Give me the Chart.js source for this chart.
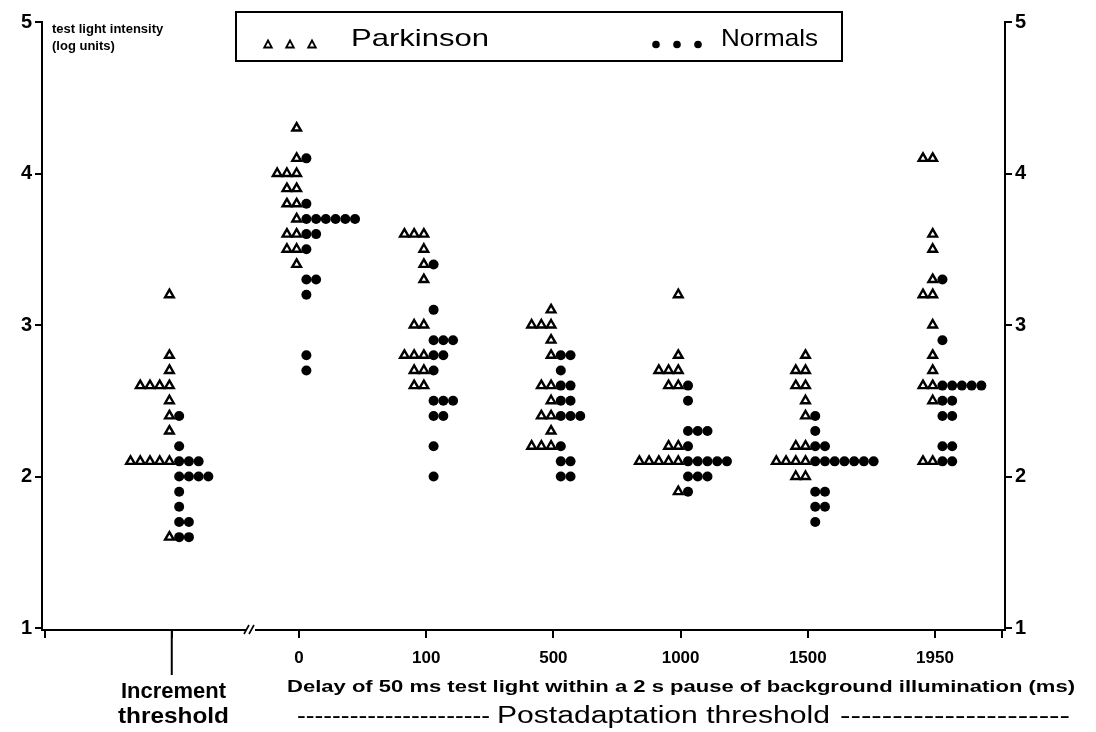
<!DOCTYPE html>
<html>
<head>
<meta charset="utf-8">
<script src="https://cdn.jsdelivr.net/npm/chart.js@4.4.0/dist/chart.umd.min.js"></script>
<style>
  html, body { margin: 0; padding: 0; background: #fff; }
  #wrap { width: 1096px; height: 732px; }
</style>
</head>
<body>
<div id="wrap"><canvas id="chart" width="1096" height="732"></canvas></div>
<script>
// ── Data ───────────────────────────────────────────────────────────────────
// group 0 = increment threshold, 1..6 = delay in ms
const groupLabels = ['', '0', '100', '500', '1000', '1500', '1950'];

// log-unit thresholds, one entry per subject
const parkinson = [
  [3.2, 2.8, 2.7, 2.6, 2.6, 2.6, 2.6, 2.5, 2.4, 2.3, 2.1, 2.1, 2.1, 2.1, 2.1, 1.6],
  [4.3, 4.1, 4.0, 4.0, 4.0, 3.9, 3.9, 3.8, 3.8, 3.7, 3.6, 3.6, 3.5, 3.5, 3.4],
  [3.6, 3.6, 3.6, 3.5, 3.4, 3.3, 3.0, 3.0, 2.8, 2.8, 2.8, 2.7, 2.7, 2.6, 2.6],
  [3.1, 3.0, 3.0, 3.0, 2.9, 2.8, 2.6, 2.6, 2.5, 2.4, 2.4, 2.3, 2.2, 2.2, 2.2],
  [3.2, 2.8, 2.7, 2.7, 2.7, 2.6, 2.6, 2.2, 2.2, 2.1, 2.1, 2.1, 2.1, 2.1, 1.9],
  [2.8, 2.7, 2.7, 2.6, 2.6, 2.5, 2.4, 2.2, 2.2, 2.1, 2.1, 2.1, 2.1, 2.0, 2.0],
  [4.1, 4.1, 3.6, 3.5, 3.3, 3.2, 3.2, 3.0, 2.8, 2.7, 2.6, 2.6, 2.5, 2.1, 2.1]
];

const normals = [
  [2.4, 2.2, 2.1, 2.1, 2.1, 2.0, 2.0, 2.0, 2.0, 1.9, 1.8, 1.7, 1.7, 1.6, 1.6],
  [4.1, 3.8, 3.7, 3.7, 3.7, 3.7, 3.7, 3.7, 3.6, 3.6, 3.5, 3.3, 3.3, 3.2, 2.8, 2.7],
  [3.4, 3.1, 2.9, 2.9, 2.9, 2.8, 2.8, 2.7, 2.5, 2.5, 2.5, 2.4, 2.4, 2.2, 2.0],
  [2.8, 2.8, 2.7, 2.6, 2.6, 2.5, 2.5, 2.4, 2.4, 2.4, 2.2, 2.1, 2.1, 2.0, 2.0],
  [2.6, 2.5, 2.3, 2.3, 2.3, 2.2, 2.1, 2.1, 2.1, 2.1, 2.1, 2.0, 2.0, 2.0, 1.9],
  [2.4, 2.3, 2.2, 2.2, 2.1, 2.1, 2.1, 2.1, 2.1, 2.1, 2.1, 1.9, 1.9, 1.8, 1.8, 1.7],
  [3.3, 2.9, 2.6, 2.6, 2.6, 2.6, 2.6, 2.5, 2.5, 2.4, 2.4, 2.2, 2.2, 2.1, 2.1]
];

const yTicks = [1, 2, 3, 4, 5];

// ── Dot-plot stacking: equal values line up sideways ───────────────────────
const STEP = 0.0765; // one marker width in x units
function stack(groups, side) {
  const pts = [];
  groups.forEach((vals, g) => {
    const seen = {};
    vals.forEach(v => {
      const k = seen[v] || 0;
      seen[v] = k + 1;
      pts.push({ x: g + 0.02 + side * (0.5 + k) * STEP, y: v });
    });
  });
  return pts;
}

const FONT = "'Liberation Sans', Arial, sans-serif";

// text squeezed/stretched to a given width (the scan's type runs wide)
function wideText(ctx, txt, x, y, w) {
  const m = ctx.measureText(txt).width;
  ctx.save();
  ctx.translate(x, y);
  ctx.scale(w / m, 1);
  ctx.fillText(txt, 0, 0);
  ctx.restore();
}

// ── Extra drawing: legend box, titles, axis break ─────────────────────────
const decor = {
  id: 'decor',
  afterDraw(chart) {
    const ctx = chart.ctx;
    const xs = chart.scales.x;
    const bottom = chart.chartArea.bottom;
    ctx.save();
    ctx.fillStyle = '#000';
    ctx.strokeStyle = '#000';

    // y title
    ctx.font = 'bold 13px ' + FONT;
    ctx.textBaseline = 'middle';
    ctx.textAlign = 'left';
    ctx.fillText('test light intensity', 52, 29);
    ctx.fillText('(log units)', 52, 46);

    // legend
    ctx.lineWidth = 2;
    ctx.strokeRect(236, 12, 606, 49);
    ctx.lineWidth = 1.8;
    [268, 290, 312].forEach(x => {
      ctx.beginPath();
      ctx.moveTo(x, 40.5); ctx.lineTo(x + 3.8, 47.5); ctx.lineTo(x - 3.8, 47.5);
      ctx.closePath(); ctx.stroke();
    });
    [656, 677, 698].forEach(x => {
      ctx.beginPath(); ctx.arc(x, 44.5, 3.8, 0, Math.PI * 2); ctx.fill();
    });
    ctx.font = '24px ' + FONT;
    wideText(ctx, 'Parkinson', 351, 39, 138);
    wideText(ctx, 'Normals', 721, 39, 97);

    // long tick under increment group
    const x0 = xs.getPixelForValue(0);
    ctx.lineWidth = 2;
    ctx.beginPath(); ctx.moveTo(x0, bottom); ctx.lineTo(x0, bottom + 45); ctx.stroke();

    ctx.font = 'bold 22px ' + FONT;
    ctx.textAlign = 'left';
    wideText(ctx, 'Increment', 121, 692, 105);
    wideText(ctx, 'threshold', 118, 717, 111);

    ctx.font = 'bold 16px ' + FONT;
    wideText(ctx, 'Delay of 50 ms test light within a 2 s pause of background illumination (ms)', 287, 688, 788);
    ctx.font = '23px ' + FONT;
    wideText(ctx, '----------------------', 297, 717, 193);
    wideText(ctx, 'Postadaptation threshold', 497, 717, 333);
    wideText(ctx, '----------------------', 840, 717, 230);

    // axis break
    const bx = 251;
    ctx.fillStyle = '#fff';
    ctx.fillRect(bx - 5, bottom - 3, 9, 6);
    ctx.lineWidth = 1.6;
    ctx.beginPath();
    ctx.moveTo(bx - 7, bottom + 4); ctx.lineTo(bx - 2, bottom - 5);
    ctx.moveTo(bx - 2, bottom + 4); ctx.lineTo(bx + 3, bottom - 5);
    ctx.stroke();
    ctx.restore();
  }
};

const yAxis = (pos, w) => ({
  position: pos,
  min: 0.987,
  max: 5,
  afterFit(s) { s.width = w; },
  afterBuildTicks(s) { s.ticks = yTicks.map(v => ({ value: v })); },
  grid: { drawOnChartArea: false, tickLength: 7, color: '#000', lineWidth: 2 },
  border: { color: '#000', width: 2 },
  ticks: { color: '#000', padding: 3, font: { family: FONT, size: 20, weight: 'bold' } }
});

new Chart(document.getElementById('chart'), {
  type: 'scatter',
  data: {
    datasets: [
      {
        label: 'Parkinson',
        data: stack(parkinson, -1),
        pointStyle: 'triangle',
        pointRadius: 5,
        borderWidth: 2.4,
        borderColor: '#000',
        backgroundColor: '#fff'
      },
      {
        label: 'Normals',
        data: stack(normals, 1),
        pointStyle: 'circle',
        pointRadius: 5,
        borderWidth: 0,
        backgroundColor: '#000'
      }
    ]
  },
  options: {
    responsive: false,
    animation: false,
    layout: { padding: { top: 22, left: 0, right: 0, bottom: 0 } },
    plugins: { legend: { display: false }, tooltip: { enabled: false } },
    scales: {
      x: {
        type: 'linear',
        min: -1.02,
        max: 6.55,
        afterFit(s) { s.height = 102; },
        afterBuildTicks(s) {
          s.ticks = [-1, 0, 1, 2, 3, 4, 5, 6, 6.53].map(v => ({ value: v }));
        },
        grid: { drawOnChartArea: false, tickLength: 8, color: '#000', lineWidth: 2 },
        border: { color: '#000', width: 2 },
        ticks: {
          autoSkip: false,
          maxRotation: 0,
          color: '#000',
          padding: 10,
          font: { family: FONT, size: 17, weight: 'bold' },
          callback: v => (Number.isInteger(v) && v >= 1 ? groupLabels[v] : '')
        }
      },
      y: yAxis('left', 42),
      y2: yAxis('right', 91)
    }
  },
  plugins: [decor]
});
</script>
</body>
</html>
